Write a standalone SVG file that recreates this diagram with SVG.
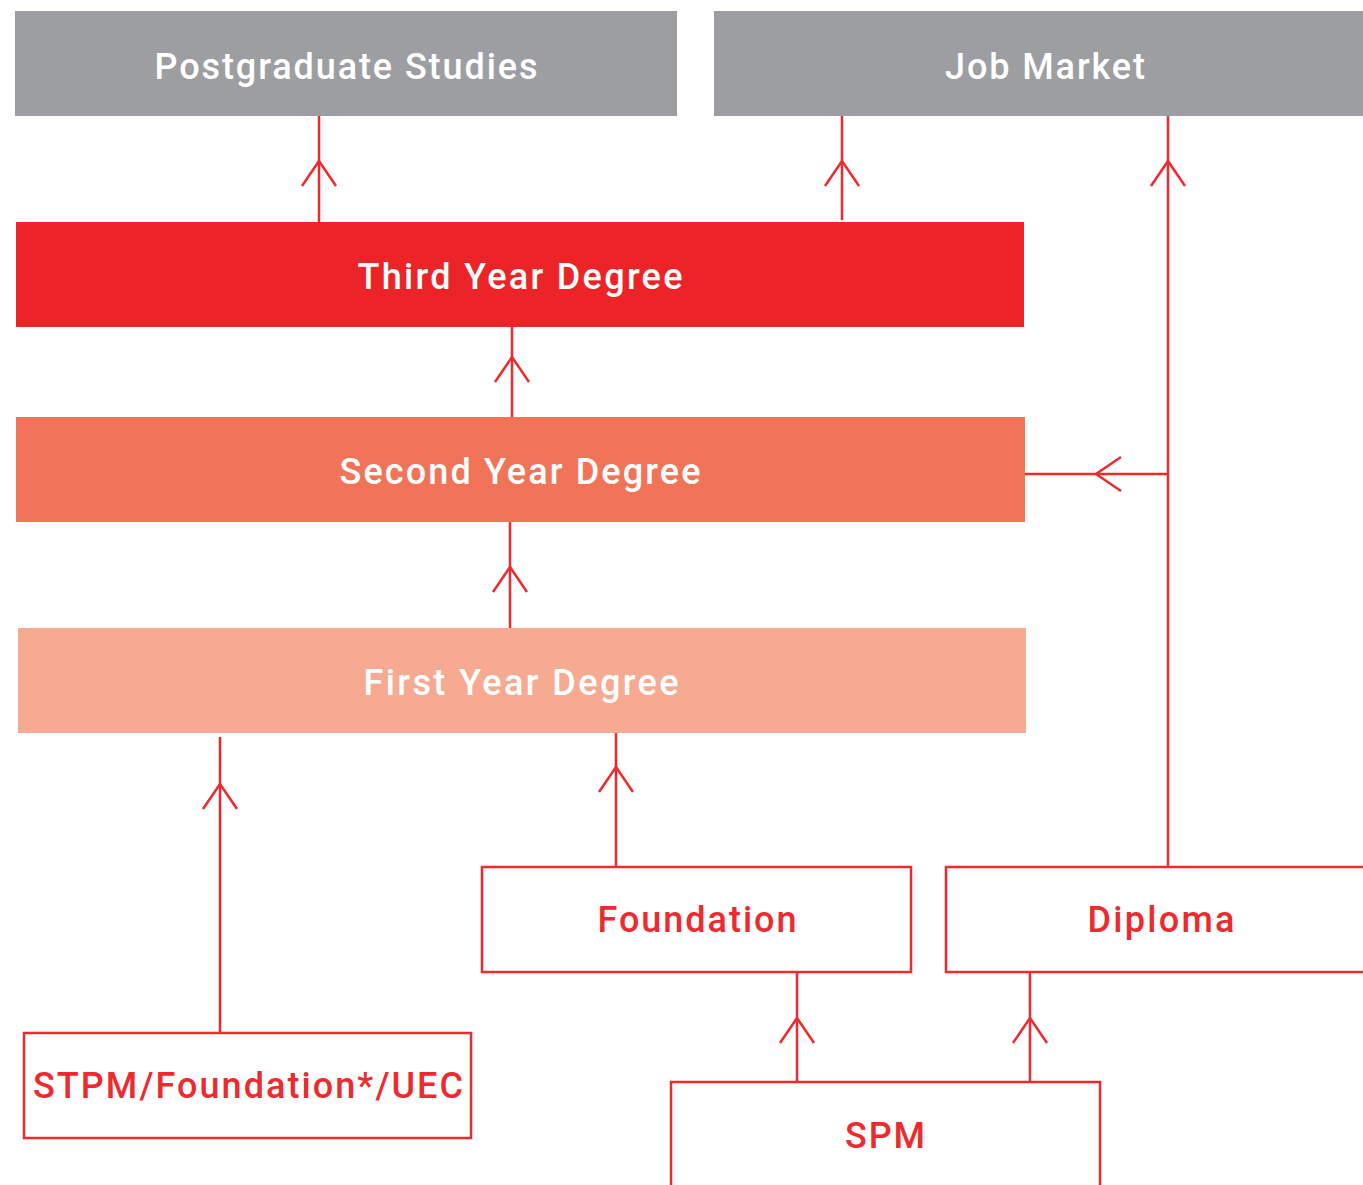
<svg xmlns="http://www.w3.org/2000/svg" width="1363" height="1185" viewBox="0 0 1363 1185">
<style>
.lbl{font-family:Roboto,"Liberation Sans",sans-serif;font-size:36px;font-weight:500;text-anchor:middle}
.w{fill:#ffffff}
.r{fill:#EE2A2F}
.box{fill:#ffffff;stroke:#EE2A2F;stroke-width:2.5}
.con{fill:none;stroke:#EE2A2F;stroke-width:2.5;marker-mid:url(#chev)}
</style>
<defs>
<marker id="chev" markerUnits="userSpaceOnUse" viewBox="-30 -20 32 40" refX="0" refY="0" markerWidth="32" markerHeight="40" orient="auto" overflow="visible">
<path d="M-25,-17 L0,0 L-25,17" fill="none" stroke="#EE2A2F" stroke-width="2.5"/>
</marker>
</defs>
<rect width="1363" height="1185" fill="#ffffff"/>
<g id="connectors">
<path class="con" d="M319,222 L319,161 L319,116"/>
<path class="con" d="M842,220 L842,161 L842,116"/>
<path class="con" d="M1168,867 L1168,161 L1168,116"/>
<path class="con" d="M1168,474 L1096,474 L1025,474"/>
<path class="con" d="M512,417 L512,357 L512,327"/>
<path class="con" d="M510,628 L510,567 L510,522"/>
<path class="con" d="M220,1033 L220,784 L220,737"/>
<path class="con" d="M616,866 L616,767 L616,733"/>
<path class="con" d="M797,1082 L797,1018 L797,972"/>
<path class="con" d="M1030,1082 L1030,1018 L1030,972"/>
</g>
<g id="postgraduate">
<rect x="15" y="11" width="662" height="105" fill="#9D9EA2"/>
<text class="lbl w" x="346" y="79" textLength="383" lengthAdjust="spacing">Postgraduate Studies</text>
</g>
<g id="job-market">
<rect x="714" y="11" width="649" height="105" fill="#9D9EA2"/>
<text class="lbl w" x="1045" y="79" textLength="200" lengthAdjust="spacing">Job Market</text>
</g>
<g id="third-year">
<rect x="16" y="222" width="1008" height="105" fill="#ED2427"/>
<text class="lbl w" x="520" y="289" textLength="325" lengthAdjust="spacing">Third Year Degree</text>
</g>
<g id="second-year">
<rect x="16" y="417" width="1009" height="105" fill="#F17458"/>
<text class="lbl w" x="520" y="484" textLength="361" lengthAdjust="spacing">Second Year Degree</text>
</g>
<g id="first-year">
<rect x="18" y="628" width="1008" height="105" fill="#F7AA92"/>
<text class="lbl w" x="521" y="695" textLength="315" lengthAdjust="spacing">First Year Degree</text>
</g>
<g id="foundation">
<rect class="box" x="482" y="867" width="429" height="105"/>
<text class="lbl r" x="697" y="932" textLength="199" lengthAdjust="spacing">Foundation</text>
</g>
<g id="diploma">
<rect class="box" x="946" y="867" width="430" height="105"/>
<text class="lbl r" x="1161" y="932" textLength="147" lengthAdjust="spacing">Diploma</text>
</g>
<g id="stpm">
<rect class="box" x="24" y="1033" width="447" height="105"/>
<text class="lbl r" x="248" y="1098" textLength="430" lengthAdjust="spacing">STPM/Foundation*/UEC</text>
</g>
<g id="spm">
<rect class="box" x="671" y="1082" width="429" height="130"/>
<text class="lbl r" x="885" y="1148" textLength="80" lengthAdjust="spacing">SPM</text>
</g>
</svg>
